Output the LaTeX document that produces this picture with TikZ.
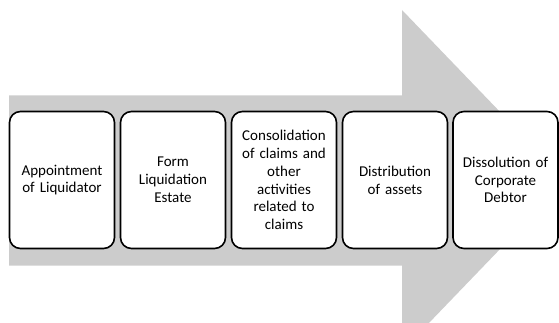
\documentclass[tikz,border=0pt]{standalone}
\usepackage{fontspec}
\setmainfont{Carlito}
\begin{document}
\begin{tikzpicture}[x=1pt,y=-1pt,
  stage/.style={draw=black, line width=1.6pt, fill=white, rounded corners=11pt,
    minimum width=105pt, minimum height=137pt, align=center, text width=96pt,
    font=\fontsize{15}{17.8}\selectfont, inner sep=0pt}]
\useasboundingbox (0,0) rectangle (559,323);
\begin{scope}
\clip (0,0) rectangle (559,323);
\fill[black!20] (9,95.5) -- (402,95.5) -- (402,10) -- (566,180.5) -- (402,351) -- (402,265.5) -- (9,265.5) -- cycle;
\node[stage] (s1) at (62,180) {Appointment\\of Liquidator};
\node[stage] (s2) at (173,180) {Form\\Liquidation\\Estate};
\node[stage] (s3) at (284,180) {Consolidation\\of claims and\\other\\activities\\related to\\claims};
\node[stage] (s4) at (395,180) {Distribution\\of assets};
\node[stage] (s5) at (505.5,180) {Dissolution of\\Corporate\\Debtor};
\end{scope}
\end{tikzpicture}
\end{document}
